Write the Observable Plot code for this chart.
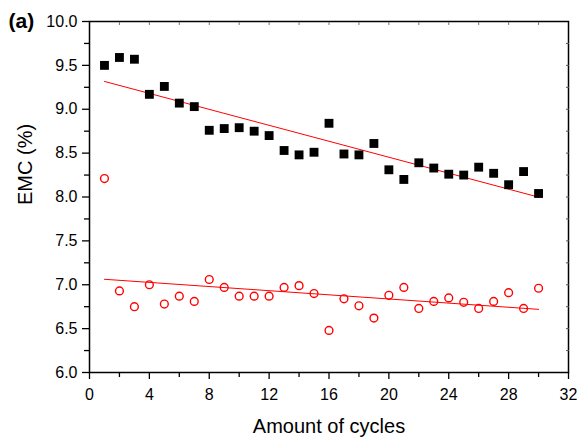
<!DOCTYPE html>
<html>
<head>
<meta charset="utf-8">
<script src="https://cdn.jsdelivr.net/npm/d3@7"></script>
<script src="https://cdn.jsdelivr.net/npm/@observablehq/plot@0.6"></script>
<style>
  html, body { margin: 0; padding: 0; background: #fff; }
  svg { font-family: "Liberation Sans", Arial, sans-serif; }
</style>
</head>
<body>
<div id="chart"></div>
<script>
const cycles = d3.range(1, 31);
const emcDry = [9.50, 9.59, 9.57, 9.17, 9.26, 9.07, 9.03, 8.76, 8.78, 8.79,
                8.75, 8.70, 8.53, 8.48, 8.51, 8.84, 8.49, 8.48, 8.61, 8.31,
                8.20, 8.39, 8.33, 8.26, 8.25, 8.34, 8.27, 8.14, 8.29, 8.04];
const emcTreated = [8.21, 6.93, 6.75, 7.00, 6.78, 6.87, 6.81, 7.06, 6.97, 6.87,
                    6.87, 6.87, 6.97, 6.99, 6.90, 6.48, 6.84, 6.76, 6.62, 6.88,
                    6.97, 6.73, 6.81, 6.85, 6.80, 6.73, 6.81, 6.91, 6.73, 6.96];
const xMajor = [0, 4, 8, 12, 16, 20, 24, 28, 32];
const xMinor = [2, 6, 10, 14, 18, 22, 26, 30];
const yMajor = [6.0, 6.5, 7.0, 7.5, 8.0, 8.5, 9.0, 9.5, 10.0];
const yMinor = [6.25, 6.75, 7.25, 7.75, 8.25, 8.75, 9.25, 9.75];

const dry = cycles.map((c, i) => ({c, v: emcDry[i]}));
const treated = cycles.map((c, i) => ({c, v: emcTreated[i]}));

const chart = Plot.plot({
  width: 577,
  height: 438,
  marginLeft: 89,
  marginRight: 9,
  marginTop: 21,
  marginBottom: 66,
  style: {fontFamily: "Liberation Sans, Arial, sans-serif", fontSize: "16px", color: "black", background: "white"},
  x: {domain: [0, 32]},
  y: {domain: [6, 10]},
  marks: [
    Plot.frame({stroke: "black", strokeWidth: 1.5}),
    Plot.axisX(xMajor, {tickSize: 7, tickPadding: 9, fontSize: 16, tickFormat: d => d, label: null, strokeWidth: 1.3}),
    Plot.axisX(xMinor, {tickSize: 5, tickFormat: () => "", label: null, strokeWidth: 1.3}),
    Plot.axisX(d3.range(2, 32, 2), {anchor: "top", tickSize: -3, tickFormat: () => "", label: null, stroke: "#777"}),
    Plot.axisY(yMajor, {tickSize: 7, tickPadding: 5, fontSize: 16, tickFormat: d3.format(".1f"), label: null, strokeWidth: 1.3}),
    Plot.axisY(yMinor, {tickSize: 5, tickFormat: () => "", label: null, strokeWidth: 1.3}),
    Plot.axisY(d3.range(6.25, 10, 0.25), {anchor: "right", tickSize: -3, tickFormat: () => "", label: null, stroke: "#555"}),
    Plot.linearRegressionY(dry, {x: "c", y: "v", stroke: "red", strokeWidth: 1, ci: 0}),
    Plot.linearRegressionY(treated, {x: "c", y: "v", stroke: "red", strokeWidth: 1, ci: 0}),
    Plot.dot(dry, {x: "c", y: "v", symbol: "square", r: 5, fill: "black", stroke: "none"}),
    Plot.dot(treated, {x: "c", y: "v", symbol: "circle", r: 3.9, fill: "none", stroke: "red", strokeWidth: 1.4}),
    Plot.text(["Amount of cycles"], {frameAnchor: "bottom", dy: 60, fontSize: 20, fill: "black"}),
    Plot.text(["EMC (%)"], {frameAnchor: "left", dx: -64, dy: 8, rotate: -90, fontSize: 20, fill: "black"}),
    Plot.text(["(a)"], {frameAnchor: "top-left", dx: -81, dy: -8, fontSize: 21, fontWeight: "bold", fill: "black"})
  ]
});
document.getElementById("chart").appendChild(chart);
</script>
</body>
</html>
